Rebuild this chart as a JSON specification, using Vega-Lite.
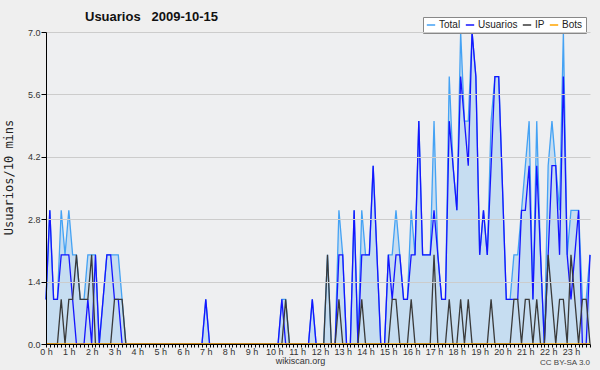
{
  "$schema": "https://vega.github.io/schema/vega-lite/v6.json",
  "width": 544,
  "height": 312,
  "autosize": "none",
  "padding": {"left": 46, "top": 32, "right": 10, "bottom": 26},
  "background": "#efefef",
  "title": {"text": "Usuarios \u00a0\u00a02009-10-15", "anchor": "start", "frame": "group", "dx": 39, "offset": -7, "font": "Liberation Sans", "fontSize": 13, "fontWeight": "bold", "color": "#111111"},
  "config": {"view": {"stroke": null, "fill": "#eeeff1"}, "font": "Liberation Sans"},
  "data": {"values": [
    {"min":0,"Total":1,"Usuarios":1,"IP":0,"Bots":0},
    {"min":10,"Total":3,"Usuarios":3,"IP":0,"Bots":0},
    {"min":20,"Total":1,"Usuarios":1,"IP":0,"Bots":0},
    {"min":30,"Total":1,"Usuarios":1,"IP":0,"Bots":0},
    {"min":40,"Total":3,"Usuarios":2,"IP":1,"Bots":0},
    {"min":50,"Total":2,"Usuarios":2,"IP":0,"Bots":0},
    {"min":60,"Total":3,"Usuarios":2,"IP":1,"Bots":0},
    {"min":70,"Total":2,"Usuarios":1,"IP":1,"Bots":0},
    {"min":80,"Total":2,"Usuarios":0,"IP":2,"Bots":0},
    {"min":90,"Total":1,"Usuarios":0,"IP":1,"Bots":0},
    {"min":100,"Total":1,"Usuarios":0,"IP":1,"Bots":0},
    {"min":110,"Total":2,"Usuarios":1,"IP":1,"Bots":0},
    {"min":120,"Total":2,"Usuarios":0,"IP":2,"Bots":0},
    {"min":130,"Total":2,"Usuarios":2,"IP":0,"Bots":0},
    {"min":140,"Total":0,"Usuarios":0,"IP":0,"Bots":0},
    {"min":150,"Total":1,"Usuarios":1,"IP":0,"Bots":0},
    {"min":160,"Total":2,"Usuarios":2,"IP":0,"Bots":0},
    {"min":170,"Total":2,"Usuarios":2,"IP":0,"Bots":0},
    {"min":180,"Total":2,"Usuarios":1,"IP":1,"Bots":0},
    {"min":190,"Total":2,"Usuarios":1,"IP":1,"Bots":0},
    {"min":200,"Total":1,"Usuarios":0,"IP":1,"Bots":0},
    {"min":210,"Total":0,"Usuarios":0,"IP":0,"Bots":0},
    {"min":220,"Total":0,"Usuarios":0,"IP":0,"Bots":0},
    {"min":230,"Total":0,"Usuarios":0,"IP":0,"Bots":0},
    {"min":240,"Total":0,"Usuarios":0,"IP":0,"Bots":0},
    {"min":250,"Total":0,"Usuarios":0,"IP":0,"Bots":0},
    {"min":260,"Total":0,"Usuarios":0,"IP":0,"Bots":0},
    {"min":270,"Total":0,"Usuarios":0,"IP":0,"Bots":0},
    {"min":280,"Total":0,"Usuarios":0,"IP":0,"Bots":0},
    {"min":290,"Total":0,"Usuarios":0,"IP":0,"Bots":0},
    {"min":300,"Total":0,"Usuarios":0,"IP":0,"Bots":0},
    {"min":310,"Total":0,"Usuarios":0,"IP":0,"Bots":0},
    {"min":320,"Total":0,"Usuarios":0,"IP":0,"Bots":0},
    {"min":330,"Total":0,"Usuarios":0,"IP":0,"Bots":0},
    {"min":340,"Total":0,"Usuarios":0,"IP":0,"Bots":0},
    {"min":350,"Total":0,"Usuarios":0,"IP":0,"Bots":0},
    {"min":360,"Total":0,"Usuarios":0,"IP":0,"Bots":0},
    {"min":370,"Total":0,"Usuarios":0,"IP":0,"Bots":0},
    {"min":380,"Total":0,"Usuarios":0,"IP":0,"Bots":0},
    {"min":390,"Total":0,"Usuarios":0,"IP":0,"Bots":0},
    {"min":400,"Total":0,"Usuarios":0,"IP":0,"Bots":0},
    {"min":410,"Total":0,"Usuarios":0,"IP":0,"Bots":0},
    {"min":420,"Total":1,"Usuarios":1,"IP":0,"Bots":0},
    {"min":430,"Total":0,"Usuarios":0,"IP":0,"Bots":0},
    {"min":440,"Total":0,"Usuarios":0,"IP":0,"Bots":0},
    {"min":450,"Total":0,"Usuarios":0,"IP":0,"Bots":0},
    {"min":460,"Total":0,"Usuarios":0,"IP":0,"Bots":0},
    {"min":470,"Total":0,"Usuarios":0,"IP":0,"Bots":0},
    {"min":480,"Total":0,"Usuarios":0,"IP":0,"Bots":0},
    {"min":490,"Total":0,"Usuarios":0,"IP":0,"Bots":0},
    {"min":500,"Total":0,"Usuarios":0,"IP":0,"Bots":0},
    {"min":510,"Total":0,"Usuarios":0,"IP":0,"Bots":0},
    {"min":520,"Total":0,"Usuarios":0,"IP":0,"Bots":0},
    {"min":530,"Total":0,"Usuarios":0,"IP":0,"Bots":0},
    {"min":540,"Total":0,"Usuarios":0,"IP":0,"Bots":0},
    {"min":550,"Total":0,"Usuarios":0,"IP":0,"Bots":0},
    {"min":560,"Total":0,"Usuarios":0,"IP":0,"Bots":0},
    {"min":570,"Total":0,"Usuarios":0,"IP":0,"Bots":0},
    {"min":580,"Total":0,"Usuarios":0,"IP":0,"Bots":0},
    {"min":590,"Total":0,"Usuarios":0,"IP":0,"Bots":0},
    {"min":600,"Total":0,"Usuarios":0,"IP":0,"Bots":0},
    {"min":610,"Total":0,"Usuarios":0,"IP":0,"Bots":0},
    {"min":620,"Total":1,"Usuarios":1,"IP":0,"Bots":0},
    {"min":630,"Total":1,"Usuarios":0,"IP":1,"Bots":0},
    {"min":640,"Total":0,"Usuarios":0,"IP":0,"Bots":0},
    {"min":650,"Total":0,"Usuarios":0,"IP":0,"Bots":0},
    {"min":660,"Total":0,"Usuarios":0,"IP":0,"Bots":0},
    {"min":670,"Total":0,"Usuarios":0,"IP":0,"Bots":0},
    {"min":680,"Total":0,"Usuarios":0,"IP":0,"Bots":0},
    {"min":690,"Total":0,"Usuarios":0,"IP":0,"Bots":0},
    {"min":700,"Total":1,"Usuarios":1,"IP":0,"Bots":0},
    {"min":710,"Total":0,"Usuarios":0,"IP":0,"Bots":0},
    {"min":720,"Total":0,"Usuarios":0,"IP":0,"Bots":0},
    {"min":730,"Total":0,"Usuarios":0,"IP":0,"Bots":0},
    {"min":740,"Total":2,"Usuarios":0,"IP":2,"Bots":0},
    {"min":750,"Total":0,"Usuarios":0,"IP":0,"Bots":0},
    {"min":760,"Total":0,"Usuarios":0,"IP":0,"Bots":0},
    {"min":770,"Total":3,"Usuarios":2,"IP":1,"Bots":0},
    {"min":780,"Total":2,"Usuarios":2,"IP":0,"Bots":0},
    {"min":790,"Total":0,"Usuarios":0,"IP":0,"Bots":0},
    {"min":800,"Total":0,"Usuarios":0,"IP":0,"Bots":0},
    {"min":810,"Total":3,"Usuarios":3,"IP":0,"Bots":0},
    {"min":820,"Total":0,"Usuarios":0,"IP":0,"Bots":0},
    {"min":830,"Total":3,"Usuarios":2,"IP":1,"Bots":0},
    {"min":840,"Total":2,"Usuarios":2,"IP":0,"Bots":0},
    {"min":850,"Total":2,"Usuarios":2,"IP":0,"Bots":0},
    {"min":860,"Total":4,"Usuarios":4,"IP":0,"Bots":0},
    {"min":870,"Total":2,"Usuarios":2,"IP":0,"Bots":0},
    {"min":880,"Total":0,"Usuarios":0,"IP":0,"Bots":0},
    {"min":890,"Total":0,"Usuarios":0,"IP":0,"Bots":0},
    {"min":900,"Total":2,"Usuarios":2,"IP":0,"Bots":0},
    {"min":910,"Total":2,"Usuarios":1,"IP":1,"Bots":0},
    {"min":920,"Total":3,"Usuarios":2,"IP":1,"Bots":0},
    {"min":930,"Total":2,"Usuarios":2,"IP":0,"Bots":0},
    {"min":940,"Total":1,"Usuarios":1,"IP":0,"Bots":0},
    {"min":950,"Total":1,"Usuarios":1,"IP":0,"Bots":0},
    {"min":960,"Total":3,"Usuarios":2,"IP":1,"Bots":0},
    {"min":970,"Total":2,"Usuarios":2,"IP":0,"Bots":0},
    {"min":980,"Total":5,"Usuarios":5,"IP":0,"Bots":0},
    {"min":990,"Total":2,"Usuarios":2,"IP":0,"Bots":0},
    {"min":1000,"Total":2,"Usuarios":2,"IP":0,"Bots":0},
    {"min":1010,"Total":2,"Usuarios":2,"IP":0,"Bots":0},
    {"min":1020,"Total":5,"Usuarios":3,"IP":2,"Bots":0},
    {"min":1030,"Total":2,"Usuarios":2,"IP":0,"Bots":0},
    {"min":1040,"Total":1,"Usuarios":1,"IP":0,"Bots":0},
    {"min":1050,"Total":1,"Usuarios":1,"IP":0,"Bots":0},
    {"min":1060,"Total":6,"Usuarios":5,"IP":1,"Bots":0},
    {"min":1070,"Total":4,"Usuarios":4,"IP":0,"Bots":0},
    {"min":1080,"Total":3,"Usuarios":3,"IP":0,"Bots":0},
    {"min":1090,"Total":7,"Usuarios":6,"IP":1,"Bots":0},
    {"min":1100,"Total":5,"Usuarios":5,"IP":0,"Bots":0},
    {"min":1110,"Total":5,"Usuarios":4,"IP":1,"Bots":0},
    {"min":1120,"Total":7,"Usuarios":7,"IP":0,"Bots":0},
    {"min":1130,"Total":6,"Usuarios":6,"IP":0,"Bots":0},
    {"min":1140,"Total":2,"Usuarios":2,"IP":0,"Bots":0},
    {"min":1150,"Total":3,"Usuarios":3,"IP":0,"Bots":0},
    {"min":1160,"Total":2,"Usuarios":2,"IP":0,"Bots":0},
    {"min":1170,"Total":5,"Usuarios":4,"IP":1,"Bots":0},
    {"min":1180,"Total":6,"Usuarios":6,"IP":0,"Bots":0},
    {"min":1190,"Total":6,"Usuarios":6,"IP":0,"Bots":0},
    {"min":1200,"Total":3.5,"Usuarios":3.5,"IP":0,"Bots":0},
    {"min":1210,"Total":1,"Usuarios":1,"IP":0,"Bots":0},
    {"min":1220,"Total":1,"Usuarios":1,"IP":0,"Bots":0},
    {"min":1230,"Total":2,"Usuarios":1,"IP":1,"Bots":0},
    {"min":1240,"Total":2,"Usuarios":1,"IP":1,"Bots":0},
    {"min":1250,"Total":3,"Usuarios":3,"IP":0,"Bots":0},
    {"min":1260,"Total":4,"Usuarios":3,"IP":1,"Bots":0},
    {"min":1270,"Total":5,"Usuarios":4,"IP":1,"Bots":0},
    {"min":1280,"Total":1,"Usuarios":1,"IP":0,"Bots":0},
    {"min":1290,"Total":5,"Usuarios":4,"IP":1,"Bots":0},
    {"min":1300,"Total":2,"Usuarios":2,"IP":0,"Bots":0},
    {"min":1310,"Total":0,"Usuarios":0,"IP":0,"Bots":0},
    {"min":1320,"Total":4,"Usuarios":2,"IP":2,"Bots":0},
    {"min":1330,"Total":5,"Usuarios":4,"IP":1,"Bots":0},
    {"min":1340,"Total":4,"Usuarios":4,"IP":0,"Bots":0},
    {"min":1350,"Total":3,"Usuarios":2,"IP":1,"Bots":0},
    {"min":1360,"Total":7,"Usuarios":6,"IP":1,"Bots":0},
    {"min":1370,"Total":2,"Usuarios":2,"IP":0,"Bots":0},
    {"min":1380,"Total":3,"Usuarios":1,"IP":2,"Bots":0},
    {"min":1390,"Total":3,"Usuarios":2,"IP":1,"Bots":0},
    {"min":1400,"Total":3,"Usuarios":3,"IP":0,"Bots":0},
    {"min":1410,"Total":1,"Usuarios":0,"IP":1,"Bots":0},
    {"min":1420,"Total":1,"Usuarios":0,"IP":1,"Bots":0},
    {"min":1430,"Total":2,"Usuarios":2,"IP":0,"Bots":0}
  ]},
  "layer": [
    {
      "mark": {"type": "area", "color": "#c6ddf1", "interpolate": "linear"},
      "encoding": {
        "x": {"field": "min", "type": "quantitative",
          "scale": {"domain": [0, 1430], "nice": false, "zero": false},
          "axis": {"tickCount": 143, "labelExpr": "datum.value % 60 == 0 ? (datum.value / 60) + ' h' : ''", "labelOverlap": false, "labelFlush": false, "grid": false, "tickSize": 3, "tickColor": "#000000", "domainColor": "#000000", "labelFontSize": 9, "labelColor": "#333333", "labelPadding": 0, "title": "wikiscan.org", "titleFontSize": 9, "titleFontWeight": "normal", "titleColor": "#333333", "titlePadding": 0, "titleX": 254, "zindex": 1}},
        "y": {"field": "Total", "type": "quantitative",
          "scale": {"domain": [0, 7], "nice": false},
          "axis": {"values": [0, 0.35, 0.7, 1.05, 1.4, 1.75, 2.1, 2.45, 2.8, 3.15, 3.5, 3.85, 4.2, 4.55, 4.9, 5.25, 5.6, 5.95, 6.3, 6.65, 7], "labelExpr": "round(datum.value * 100) % 140 == 0 ? format(datum.value, '.1f') : ''", "labelOverlap": false, "labelFlush": false, "grid": true, "gridColor": "#cccccc", "gridOpacity": {"condition": {"test": "round(datum.value * 100) % 140 == 0 && datum.value > 0", "value": 1}, "value": 0}, "tickSize": 5, "tickColor": "#000000", "domainColor": "#000000", "labelFontSize": 9, "labelColor": "#333333", "labelPadding": 1, "title": "Usuarios/10 mins", "titleFont": "DejaVu Sans Mono", "titleFontSize": 12, "titleFontWeight": "normal", "titleColor": "#222222", "titlePadding": 12, "titleY": 145, "zindex": 1}}
      }
    },
    {
      "mark": {"type": "line", "strokeWidth": 1.3, "interpolate": "linear"},
      "encoding": {
        "x": {"field": "min", "type": "quantitative"},
        "y": {"field": "Total", "type": "quantitative"},
        "color": {"datum": "Total", "type": "nominal",
          "scale": {"domain": ["Total", "Usuarios", "IP", "Bots"], "range": ["#44a2f4", "#1515ff", "#3a3a3a", "#ffa500"]},
          "legend": {"orient": "none", "legendX": 377, "legendY": -15, "direction": "horizontal", "title": null, "fillColor": "#ffffff", "strokeColor": "#888888", "padding": 3, "labelFontSize": 10, "labelColor": "#222222", "symbolType": "stroke", "symbolSize": 70, "symbolStrokeWidth": 1.5, "labelOffset": 3, "columnPadding": 1}}
      }
    },
    {
      "mark": {"type": "line", "strokeWidth": 1.3, "interpolate": "linear"},
      "encoding": {
        "x": {"field": "min", "type": "quantitative"},
        "y": {"field": "Usuarios", "type": "quantitative"},
        "color": {"datum": "Usuarios", "type": "nominal"}
      }
    },
    {
      "mark": {"type": "line", "strokeWidth": 1.3, "interpolate": "linear"},
      "encoding": {
        "x": {"field": "min", "type": "quantitative"},
        "y": {"field": "IP", "type": "quantitative"},
        "color": {"datum": "IP", "type": "nominal"}
      }
    },
    {
      "mark": {"type": "line", "strokeWidth": 1.3, "interpolate": "linear"},
      "encoding": {
        "x": {"field": "min", "type": "quantitative"},
        "y": {"field": "Bots", "type": "quantitative"},
        "color": {"datum": "Bots", "type": "nominal"}
      }
    },
    {
      "data": {"values": [{"licencia": "CC BY-SA 3.0"}]},
      "mark": {"type": "text", "align": "right", "baseline": "middle", "fontSize": 8, "color": "#444444"},
      "encoding": {
        "x": {"datum": 1430, "type": "quantitative"},
        "y": {"datum": -0.42, "type": "quantitative"},
        "text": {"field": "licencia"}
      }
    }
  ]
}
